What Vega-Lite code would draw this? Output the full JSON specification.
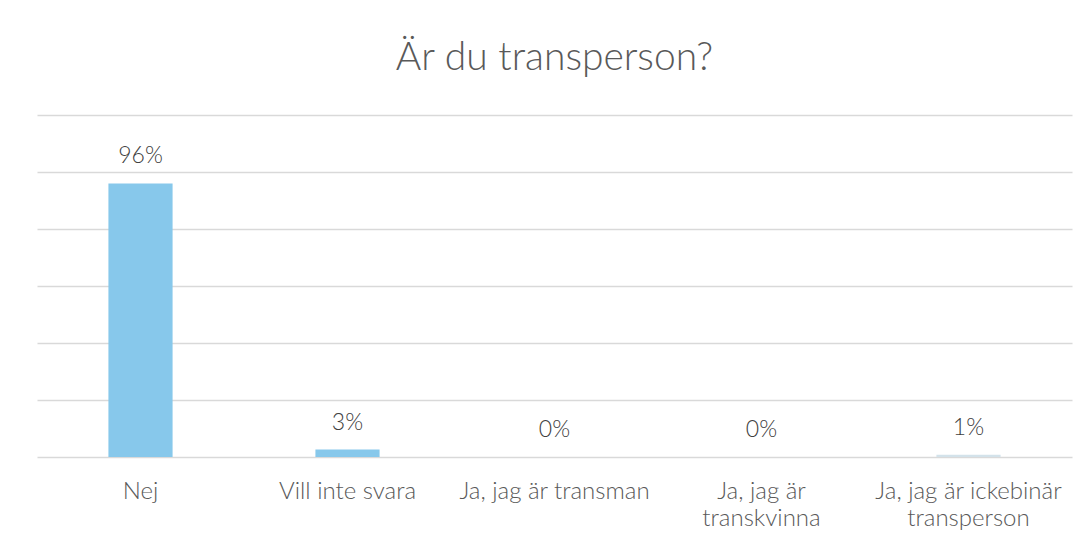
{
  "$schema": "https://vega.github.io/schema/vega-lite/v6.json",
  "autosize": "none",
  "width": 1035,
  "height": 342,
  "padding": {"left": 37, "top": 115, "right": 19, "bottom": 92},
  "background": "white",
  "title": {
    "text": "Är du transperson?",
    "anchor": "middle",
    "frame": "group",
    "font": "Lato",
    "fontSize": 39,
    "fontWeight": 300,
    "color": "#595959",
    "baseline": "alphabetic",
    "offset": 6
  },
  "config": {
    "view": {"stroke": null},
    "font": "Lato"
  },
  "data": {
    "values": [
      {"category": "Nej", "value": 0.96},
      {"category": "Vill inte svara", "value": 0.026},
      {"category": "Ja, jag är transman", "value": 0},
      {"category": "Ja, jag är transkvinna", "value": 0},
      {"category": "Ja, jag är ickebinär transperson", "value": 0.008}
    ]
  },
  "encoding": {
    "x": {
      "field": "category",
      "type": "nominal",
      "sort": null,
      "scale": {"paddingInner": 0.69, "paddingOuter": 0.345},
      "axis": {
        "title": null,
        "domain": false,
        "ticks": false,
        "labelAngle": 0,
        "labelFont": "Lato",
        "labelFontSize": 24,
        "labelFontWeight": 300,
        "labelColor": "#595959",
        "labelPadding": 22,
        "labelLineHeight": 27,
        "labelLimit": 300,
        "labelExpr": "datum.label == 'Ja, jag är transkvinna' ? ['Ja, jag är', 'transkvinna'] : datum.label == 'Ja, jag är ickebinär transperson' ? ['Ja, jag är ickebinär', 'transperson'] : datum.label"
      }
    },
    "y": {
      "field": "value",
      "type": "quantitative",
      "scale": {"domain": [0, 1.2], "nice": false},
      "axis": {
        "title": null,
        "labels": false,
        "ticks": false,
        "domain": false,
        "values": [0, 0.2, 0.4, 0.6, 0.8, 1.0, 1.2],
        "gridColor": "#d9d9d9",
        "gridWidth": 1.5
      }
    }
  },
  "layer": [
    {
      "mark": {"type": "bar"},
      "encoding": {
        "color": {
          "field": "category",
          "type": "nominal",
          "legend": null,
          "scale": {
            "domain": ["Nej", "Vill inte svara", "Ja, jag är transman", "Ja, jag är transkvinna", "Ja, jag är ickebinär transperson"],
            "range": ["#87c8eb", "#87c8eb", "#87c8eb", "#87c8eb", "#d3e2ea"]
          }
        }
      }
    },
    {
      "mark": {
        "type": "text",
        "baseline": "alphabetic",
        "dy": -20,
        "font": "Lato",
        "fontSize": 23,
        "fontWeight": 300,
        "color": "#404040"
      },
      "encoding": {
        "text": {"field": "value", "type": "quantitative", "format": ".0%"}
      }
    }
  ]
}
